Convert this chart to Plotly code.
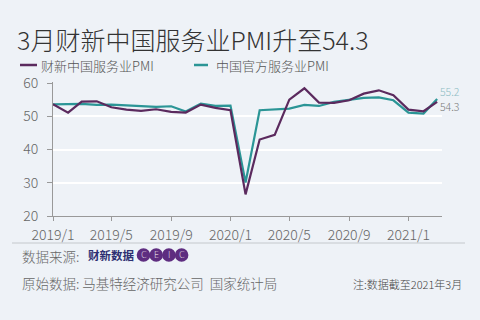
import plotly.graph_objects as go

months = ["2019-01","2019-02","2019-03","2019-04","2019-05","2019-06","2019-07","2019-08","2019-09","2019-10","2019-11","2019-12",
          "2020-01","2020-02","2020-03","2020-04","2020-05","2020-06","2020-07","2020-08","2020-09","2020-10","2020-11","2020-12",
          "2021-01","2021-02","2021-03"]
caixin = [53.6, 51.1, 54.4, 54.5, 52.7, 52.0, 51.6, 52.1, 51.3, 51.1, 53.5, 52.5,
          51.8, 26.5, 43.0, 44.4, 55.0, 58.4, 54.1, 54.0, 54.8, 56.8, 57.8, 56.3,
          52.0, 51.5, 54.3]
official = [53.6, 53.6, 53.7, 53.4, 53.5, 53.3, 53.0, 52.8, 53.0, 51.4, 53.8, 53.1,
            53.2, 30.1, 51.8, 52.1, 52.3, 53.4, 53.1, 54.3, 54.8, 55.5, 55.7, 54.8,
            51.1, 50.8, 55.2]
tick_vals = ["2019-01","2019-05","2019-09","2020-01","2020-05","2020-09","2021-01"]
tick_text = ["2019/1","2019/5","2019/9","2020/1","2020/5","2020/9","2021/1"]
names = ["财新中国服务业PMI", "中国官方服务业PMI"]
last_labels = ["54.3", "55.2"]

PURPLE = "#5b2a5e"
TEAL = "#2b9596"
BG = "#eef2f7"
FONT = "Noto Sans CJK SC"
LW = 300

W, H = 480, 320
ML, MR, MT, MB = 53, 38, 82, 104
PW, PH = W - ML - MR, H - MT - MB

def xp(px):
    return (px - ML) / PW

def yp(py):
    return (H - MB - py) / PH

fig = go.Figure()
fig.add_trace(go.Scatter(x=months, y=official, mode="lines", name=names[1],
                         line=dict(color=TEAL, width=2.2), showlegend=False))
fig.add_trace(go.Scatter(x=months, y=caixin, mode="lines", name=names[0],
                         line=dict(color=PURPLE, width=2.2), showlegend=False))

ann = []
# legend
ann.append(dict(text=names[0], x=xp(39), y=yp(65), xref="paper", yref="paper",
                xanchor="left", yanchor="middle", showarrow=False,
                font=dict(family=FONT, size=13, color="#555", weight=LW)))
ann.append(dict(text=names[1], x=xp(214), y=yp(65), xref="paper", yref="paper",
                xanchor="left", yanchor="middle", showarrow=False,
                font=dict(family=FONT, size=13, color="#555", weight=LW)))
# end labels
ann.append(dict(text=last_labels[1], x=months[-1], y=official[-1], xanchor="left", yanchor="middle",
                xshift=1, yshift=7, showarrow=False,
                font=dict(family=FONT, size=10.5, color="#8dbcc3", weight=LW)))
ann.append(dict(text=last_labels[0], x=months[-1], y=caixin[-1], xanchor="left", yanchor="middle",
                xshift=1, yshift=-5, showarrow=False,
                font=dict(family=FONT, size=10.5, color="#7a7a7a", weight=LW)))
# footer
ann.append(dict(text="数据来源:", x=xp(20), y=yp(256), xref="paper", yref="paper",
                xanchor="left", yanchor="middle", showarrow=False,
                font=dict(family=FONT, size=13.5, color="#666", weight=LW)))
ann.append(dict(text="<b>财新数据</b>", x=xp(86), y=yp(255), xref="paper", yref="paper",
                xanchor="left", yanchor="middle", showarrow=False,
                font=dict(family=FONT, size=11.5, color="#2d2f72")))
ann.append(dict(text="原始数据: 马基特经济研究公司  国家统计局", x=xp(20), y=yp(283), xref="paper", yref="paper",
                xanchor="left", yanchor="middle", showarrow=False,
                font=dict(family=FONT, size=13.5, color="#666", weight=LW)))
ann.append(dict(text="注:数据截至2021年3月", x=xp(464), y=yp(284), xref="paper", yref="paper",
                xanchor="right", yanchor="middle", showarrow=False,
                font=dict(family=FONT, size=11, color="#444", weight=LW)))

shapes = []
shapes.append(dict(type="line", xref="paper", yref="paper", x0=xp(20), x1=xp(37), y0=yp(65), y1=yp(65),
                   line=dict(color=PURPLE, width=2.5)))
shapes.append(dict(type="line", xref="paper", yref="paper", x0=xp(194), x1=xp(208), y0=yp(65), y1=yp(65),
                   line=dict(color=TEAL, width=2.5)))
shapes.append(dict(type="line", xref="paper", yref="paper", x0=xp(12), x1=xp(465), y0=yp(243), y1=yp(243),
                   line=dict(color="#c4c8cc", width=1)))
# CEIC logo
for i, ch in enumerate("CEIC"):
    cx = 143.5 + i * 12.7
    shapes.append(dict(type="circle", xref="paper", yref="paper",
                       x0=xp(cx - 6.8), x1=xp(cx + 6.8), y0=yp(255 + 6.8), y1=yp(255 - 6.8),
                       fillcolor="#5e2d80", line=dict(width=0)))
for i, ch in enumerate("CEIC"):
    cx = 143.5 + i * 12.7
    ann.append(dict(text=ch, x=xp(cx), y=yp(255), xref="paper", yref="paper",
                    xanchor="center", yanchor="middle", showarrow=False,
                    font=dict(family="DejaVu Sans", size=8, color="white")))

fig.update_layout(
    width=W, height=H,
    margin=dict(l=ML, r=MR, t=MT, b=MB),
    paper_bgcolor=BG, plot_bgcolor=BG,
    title=dict(text="3月财新中国服务业PMI升至54.3", x=17 / W, xref="container", xanchor="left",
               y=1 - 41 / H, yref="container", yanchor="middle",
               font=dict(family=FONT, size=25, color="#333", weight=LW)),
    font=dict(family=FONT, weight=LW),
    annotations=ann, shapes=shapes,
)
fig.update_xaxes(range=["2019-01-01", "2021-03-11"], tickvals=tick_vals, ticktext=tick_text,
                 showgrid=False, showline=True, linecolor="#999", linewidth=1,
                 ticks="outside", ticklen=4, tickcolor="#999", ticklabelstandoff=2,
                 tickfont=dict(family=FONT, size=14, color="#666", weight=LW), zeroline=False)
fig.update_yaxes(range=[20, 60.3], tickvals=[20, 30, 40, 50, 60],
                 showgrid=True, gridcolor="white", gridwidth=1.5,
                 showline=True, linecolor="#999", linewidth=1,
                 ticks="outside", ticklen=5, tickcolor="#999", ticklabelstandoff=6,
                 tickfont=dict(family=FONT, size=14, color="#666", weight=LW), zeroline=False)

fig.write_html("out.html")
